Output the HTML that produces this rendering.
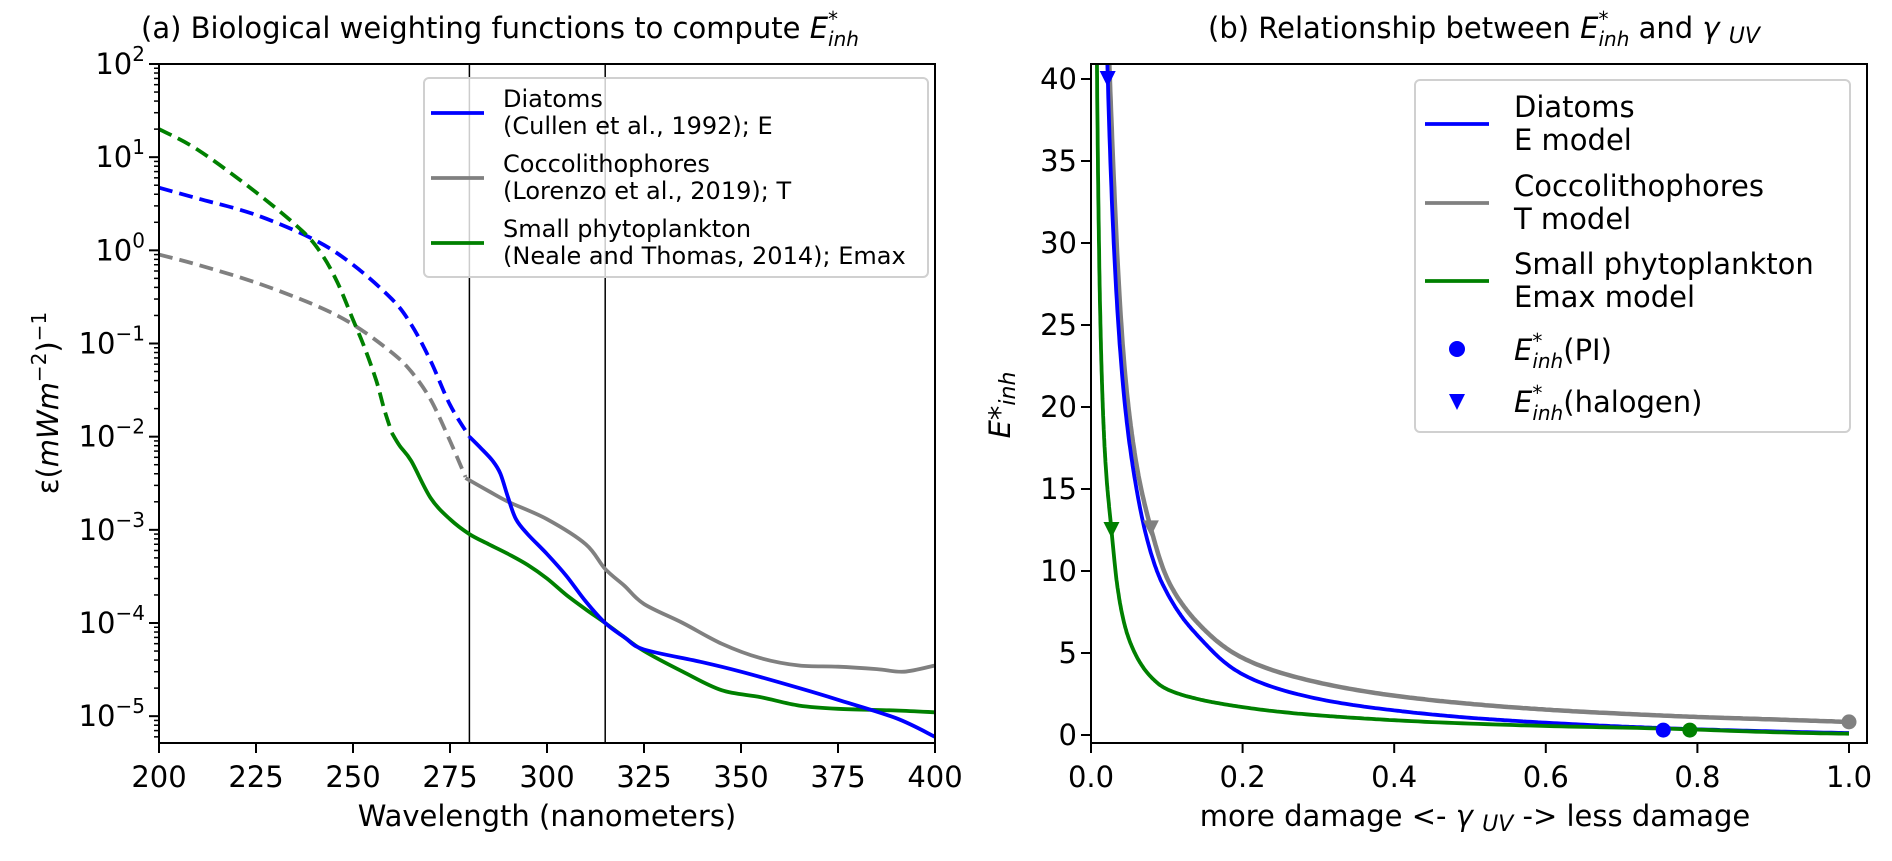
<!DOCTYPE html>
<html><head><meta charset="utf-8"><style>
body{margin:0;background:#fff}
svg text{font-family:"DejaVu Sans","Liberation Sans",sans-serif;fill:#000}
</style></head><body>
<svg id="fig" width="1892" height="856" viewBox="0 0 1892 856" xmlns="http://www.w3.org/2000/svg">
<g id="gA"></g>
<g id="gB"></g>
</svg>
<script>
// ---------- Panel (a) data ----------
const diaDashX=[200,210,225,240,250,260,265,270,275,280];
const diaDashY=[4.7,3.6,2.4,1.3,0.7,0.3,0.16,0.065,0.022,0.010];
const diaX=[280,283,286,288,290,292,295,300,305,310,315,320,325,340,350,365,375,390,400];
const diaY=[0.010,0.0075,0.0055,0.004,0.0022,0.0013,0.0009,0.00055,0.00032,0.00017,0.0001,0.00007,0.000052,0.000038,0.00003,0.00002,0.000015,0.0000095,0.000006];
const cocDashX=[200,210,225,240,250,260,265,270,275,279];
const cocDashY=[0.9,0.7,0.45,0.26,0.16,0.08,0.05,0.025,0.009,0.0037];
const cocX=[279,285,290,300,310,315,320,325,335,345,355,365,375,385,392,400];
const cocY=[0.0036,0.0026,0.002,0.0013,0.0007,0.00038,0.00025,0.00016,0.0001,0.00006,0.000042,0.000035,0.000034,0.000032,0.00003,0.000035];
const smDashX=[200,210,225,237,242,246,250,253,256,258,260];
const smDashY=[20,12,4.2,1.6,0.9,0.45,0.18,0.09,0.04,0.02,0.011];
const smX=[260,262,265,270,275,280,285,290,295,300,305,310,315,320,325,335,345,355,365,375,390,400];
const smY=[0.011,0.008,0.0055,0.0022,0.0013,0.0009,0.0007,0.00055,0.00042,0.0003,0.0002,0.00014,0.0001,0.00007,0.00005,0.00003,0.000019,0.000016,0.000013,0.000012,0.0000115,0.000011];
const xTicksA=[200,225,250,275,300,325,350,375,400];
const yDecadesA=[-5,-4,-3,-2,-1,0,1,2];
const vLinesA=[280,315];

// ---------- Panel (b) data ----------
const gamDia=[0.02,0.03,0.045,0.06,0.087,0.1,0.12,0.15,0.2,0.3,0.4,0.5,0.6,0.7,0.8,0.9,1.0];
const eDia=[44,30,20,15,10,8.7,7.2,5.6,3.7,2.2,1.5,1.05,0.75,0.52,0.35,0.22,0.12];
const gamCoc=[0.022,0.03,0.045,0.06,0.079,0.1,0.13,0.15,0.2,0.3,0.4,0.5,0.6,0.7,0.8,0.9,1.0];
const eCoc=[44,34,22,16.5,12.6,9.6,7.4,6.4,4.7,3.2,2.4,1.9,1.55,1.3,1.1,0.95,0.8];
const gamSm=[0.004,0.008,0.012,0.016,0.02,0.027,0.035,0.045,0.06,0.08,0.1,0.15,0.2,0.3,0.4,0.6,0.8,1.0];
const eSm=[80,40,26,19.5,16,12.5,9,6.6,4.8,3.5,2.8,2.1,1.7,1.2,0.9,0.55,0.33,0.08];
const piGam=[0.755,0.79,1.0];
const piE=[0.3,0.3,0.8];
const halGam=[0.022,0.079,0.027];
const halE=[40,12.6,12.5];
const markerColors=['#0000ff','#008000','#808080'];
const halColors=['#0000ff','#808080','#008000'];
const xTicksB=[0,0.2,0.4,0.6,0.8,1.0];
const yTicksB=[0,5,10,15,20,25,30,35,40];

const NS='http://www.w3.org/2000/svg';
function mk(parent,tag,attrs,txt){const e=document.createElementNS(NS,tag);for(const k in attrs)e.setAttribute(k,attrs[k]);if(txt!==undefined)e.textContent=txt;parent.appendChild(e);return e;}
function smooth(pts){
  if(pts.length<2)return '';
  let d='M'+pts[0][0].toFixed(1)+','+pts[0][1].toFixed(1);
  for(let i=0;i<pts.length-1;i++){
    const p0=pts[Math.max(0,i-1)],p1=pts[i],p2=pts[i+1],p3=pts[Math.min(pts.length-1,i+2)];
    const c1=[p1[0]+(p2[0]-p0[0])/6,p1[1]+(p2[1]-p0[1])/6];
    const c2=[p2[0]-(p3[0]-p1[0])/6,p2[1]-(p3[1]-p1[1])/6];
    d+=' C'+c1[0].toFixed(1)+','+c1[1].toFixed(1)+' '+c2[0].toFixed(1)+','+c2[1].toFixed(1)+' '+p2[0].toFixed(1)+','+p2[1].toFixed(1);
  }
  return d;
}
function logSmoothPts(xs,ys){
  const L=xs.map((x,i)=>[Math.log(x),Math.log(Math.max(ys[i],1e-3))]);
  const out=[];
  for(let i=0;i<L.length-1;i++){
    const p0=L[Math.max(0,i-1)],p1=L[i],p2=L[i+1],p3=L[Math.min(L.length-1,i+2)];
    for(let s=0;s<20;s++){
      const t=s/20,t2=t*t,t3=t2*t;
      const f=k=>0.5*((2*p1[k])+(-p0[k]+p2[k])*t+(2*p0[k]-5*p1[k]+4*p2[k]-p3[k])*t2+(-p0[k]+3*p1[k]-3*p2[k]+p3[k])*t3);
      out.push([Math.exp(f(0)),Math.exp(f(1))]);
    }
  }
  out.push([xs[xs.length-1],ys[ys.length-1]]);
  return out;
}

// ===== Panel A =====
const A={l:159,r:935,t:64,b:743};
const xA=v=>A.l+(v-200)/200*(A.r-A.l);
const decA=(623-64)/6;
const yA=v=>64+(2-Math.log10(v))*decA;
const gA=document.getElementById('gA');
const clipA=mk(gA,'clipPath',{id:'cA'});mk(clipA,'rect',{x:A.l,y:A.t,width:A.r-A.l,height:A.b-A.t});
const plotA=mk(gA,'g',{'clip-path':'url(#cA)'});
vLinesA.forEach(v=>{
  const ln=mk(plotA,'line',{x1:xA(v),x2:xA(v),y1:A.t,y2:A.b,stroke:'#000','stroke-width':1.5});
  
  
});
function seriesA(xs,ys,color,dashed,name){
  const p=mk(plotA,'path',{d:smooth(xs.map((x,i)=>[xA(x),yA(ys[i])])),fill:'none',stroke:color,'stroke-width':3.8,'stroke-dasharray':dashed?'14 7':'none','stroke-linejoin':'round'});
  
  
}
seriesA(diaDashX,diaDashY,'#0000ff',true,'diatoms-extrapolated-line');
seriesA(cocDashX,cocDashY,'#808080',true,'coccolithophores-extrapolated-line');
seriesA(smDashX,smDashY,'#008000',true,'small-phyto-extrapolated-line');
seriesA(cocX,cocY,'#808080',false,'coccolithophores-line');
seriesA(smX,smY,'#008000',false,'small-phyto-line');
seriesA(diaX,diaY,'#0000ff',false,'diatoms-line');
mk(gA,'rect',{x:A.l,y:A.t,width:A.r-A.l,height:A.b-A.t,fill:'none',stroke:'#000','stroke-width':2,});
xTicksA.forEach(v=>{
  mk(gA,'line',{x1:xA(v),x2:xA(v),y1:A.b,y2:A.b+10,stroke:'#000','stroke-width':2});
  const t=mk(gA,'text',{x:xA(v),y:A.b+44,'font-size':29,'text-anchor':'middle'},String(v));
  
  
});
yDecadesA.forEach(d=>{
  const y=yA(Math.pow(10,d));
  mk(gA,'line',{x1:A.l-10,x2:A.l,y1:y,y2:y,stroke:'#000','stroke-width':2});
  for(let m=2;m<10;m++){const ym=yA(m*Math.pow(10,d));if(ym>=A.t-0.5&&ym<=A.b+0.5)mk(gA,'line',{x1:A.l-5,x2:A.l,y1:ym,y2:ym,stroke:'#000','stroke-width':1.5});}
  for(let m=5;m<10;m++){const ym=yA(m*Math.pow(10,d-1));if(d===-5&&ym<=A.b+0.5)mk(gA,'line',{x1:A.l-5,x2:A.l,y1:ym,y2:ym,stroke:'#000','stroke-width':1.5});}
  const t=mk(gA,'text',{x:A.l-14,y:y+10,'font-size':29,'text-anchor':'end'});
  
  
  t.innerHTML='10<tspan dy="-13" font-size="20">'+(d<0?'\u2212'+(-d):d)+'</tspan>';
});
mk(gA,'text',{x:xA(300),y:826,'font-size':29,'text-anchor':'middle',},'Wavelength (nanometers)');
const yl=mk(gA,'text',{x:0,y:0,'font-size':29,'text-anchor':'middle',transform:'translate(58,403) rotate(-90)',});
yl.innerHTML='\u03b5(<tspan font-style="italic">mWm</tspan><tspan dy="-12" font-size="20">\u22122</tspan><tspan dy="12">)</tspan><tspan dy="-12" font-size="20">\u22121</tspan>';
const tA=mk(gA,'text',{x:500,y:38,'font-size':29,'text-anchor':'middle',});
tA.innerHTML='(a) Biological weighting functions to compute <tspan font-style="italic">E</tspan><tspan dy="-12" font-size="20" font-style="italic">*</tspan><tspan dx="-10" dy="20" font-size="20" font-style="italic">inh</tspan>';
const lgA=mk(gA,'g',{});
mk(lgA,'rect',{x:424,y:78,width:504,height:199,rx:5,fill:'#fff','fill-opacity':0.8,stroke:'#d0d0d0','stroke-width':2});
[['#0000ff','Diatoms','(Cullen et al., 1992); E',113],['#808080','Coccolithophores','(Lorenzo et al., 2019); T',178],['#008000','Small phytoplankton','(Neale and Thomas, 2014); Emax',243]].forEach(e=>{
  const g=mk(lgA,'g',{});
  
  
  mk(g,'line',{x1:431,x2:484,y1:e[3],y2:e[3],stroke:e[0],'stroke-width':3.8});
  mk(g,'text',{x:503,y:e[3]-6,'font-size':24},e[1]);
  mk(g,'text',{x:503,y:e[3]+21,'font-size':24},e[2]);
});

// ===== Panel B =====
const B={l:1091,r:1867,t:64,b:743};
const xB=v=>B.l+v*758;
const yB=v=>735-v*16.4;
const gB=document.getElementById('gB');
const clipB=mk(gB,'clipPath',{id:'cB'});mk(clipB,'rect',{x:B.l,y:B.t,width:B.r-B.l,height:B.b-B.t});
const plotB=mk(gB,'g',{'clip-path':'url(#cB)'});
function seriesB(xs,ys,color,w,name){
  const pts=logSmoothPts(xs,ys).map(p=>xB(p[0]).toFixed(1)+','+yB(p[1]).toFixed(1));
  const p=mk(plotB,'path',{d:'M'+pts.join(' L'),fill:'none',stroke:color,'stroke-width':w,'stroke-linejoin':'round'});
  
  
}
seriesB(gamCoc,eCoc,'#808080',4.5,'coccolithophores-curve');
seriesB(gamDia,eDia,'#0000ff',3.8,'diatoms-curve');
seriesB(gamSm,eSm,'#008000',3.8,'small-phyto-curve');
piGam.forEach((g,i)=>{
  const c=mk(plotB,'circle',{cx:xB(g),cy:yB(piE[i]),r:7.5,fill:markerColors[i]});
  
  
});
halGam.forEach((g,i)=>{
  const x=xB(g),y=yB(halE[i]);
  const p=mk(plotB,'path',{d:`M${x-8},${y-8} L${x+8},${y-8} L${x},${y+8} Z`,fill:halColors[i]});
  
  
});
mk(gB,'rect',{x:B.l,y:B.t,width:B.r-B.l,height:B.b-B.t,fill:'none',stroke:'#000','stroke-width':2,});
xTicksB.forEach(v=>{
  mk(gB,'line',{x1:xB(v),x2:xB(v),y1:B.b,y2:B.b+10,stroke:'#000','stroke-width':2});
  const t=mk(gB,'text',{x:xB(v),y:B.b+44,'font-size':29,'text-anchor':'middle'},v.toFixed(1));
  
  
});
yTicksB.forEach(v=>{
  mk(gB,'line',{x1:B.l-10,x2:B.l,y1:yB(v),y2:yB(v),stroke:'#000','stroke-width':2});
  const t=mk(gB,'text',{x:B.l-14,y:yB(v)+10,'font-size':29,'text-anchor':'end'},String(v));
  
  
});
const xlB=mk(gB,'text',{x:1475,y:826,'font-size':29,'text-anchor':'middle',});
xlB.innerHTML='more damage &lt;- <tspan font-style="italic">\u03b3</tspan> <tspan font-style="italic" font-size="22" dy="5">UV</tspan><tspan dy="-5"> -&gt; less damage</tspan>';
const ylB=mk(gB,'text',{x:0,y:0,'font-size':29,'text-anchor':'middle',transform:'translate(1010,405) rotate(-90)',});
ylB.innerHTML='<tspan font-style="italic">E</tspan>*<tspan font-style="italic" font-size="22" dy="5">inh</tspan>';
const tB=mk(gB,'text',{x:1484,y:38,'font-size':29,'text-anchor':'middle',});
tB.innerHTML='(b) Relationship between <tspan font-style="italic">E</tspan><tspan dy="-12" font-size="20" font-style="italic">*</tspan><tspan dx="-10" dy="20" font-size="20" font-style="italic">inh</tspan><tspan dy="-8"> and </tspan><tspan font-style="italic">\u03b3</tspan> <tspan font-style="italic" font-size="22" dy="5">UV</tspan>';
const lgB=mk(gB,'g',{});
mk(lgB,'rect',{x:1415,y:80,width:435,height:352,rx:5,fill:'#fff','fill-opacity':0.8,stroke:'#d0d0d0','stroke-width':2});
[['#0000ff','Diatoms','E model',124],['#808080','Coccolithophores','T model',203],['#008000','Small phytoplankton','Emax model',281]].forEach(e=>{
  const g=mk(lgB,'g',{});
  
  
  mk(g,'line',{x1:1425,x2:1489,y1:e[3],y2:e[3],stroke:e[0],'stroke-width':3.8});
  mk(g,'text',{x:1514,y:e[3]-7,'font-size':29},e[1]);
  mk(g,'text',{x:1514,y:e[3]+26,'font-size':29},e[2]);
});
const lp=mk(lgB,'g',{});
mk(lp,'circle',{cx:1457,cy:349,r:8,fill:'#0000ff'});
const tp=mk(lp,'text',{x:1514,y:360,'font-size':29});
tp.innerHTML='<tspan font-style="italic">E</tspan><tspan dy="-12" font-size="20" font-style="italic">*</tspan><tspan dx="-10" dy="20" font-size="20" font-style="italic">inh</tspan><tspan dy="-8">(PI)</tspan>';
const lh=mk(lgB,'g',{});
mk(lh,'path',{d:'M1449,394 L1465,394 L1457,410 Z',fill:'#0000ff'});
const th=mk(lh,'text',{x:1514,y:412,'font-size':29});
th.innerHTML='<tspan font-style="italic">E</tspan><tspan dy="-12" font-size="20" font-style="italic">*</tspan><tspan dx="-10" dy="20" font-size="20" font-style="italic">inh</tspan><tspan dy="-8">(halogen)</tspan>';
</script>
</body></html>
